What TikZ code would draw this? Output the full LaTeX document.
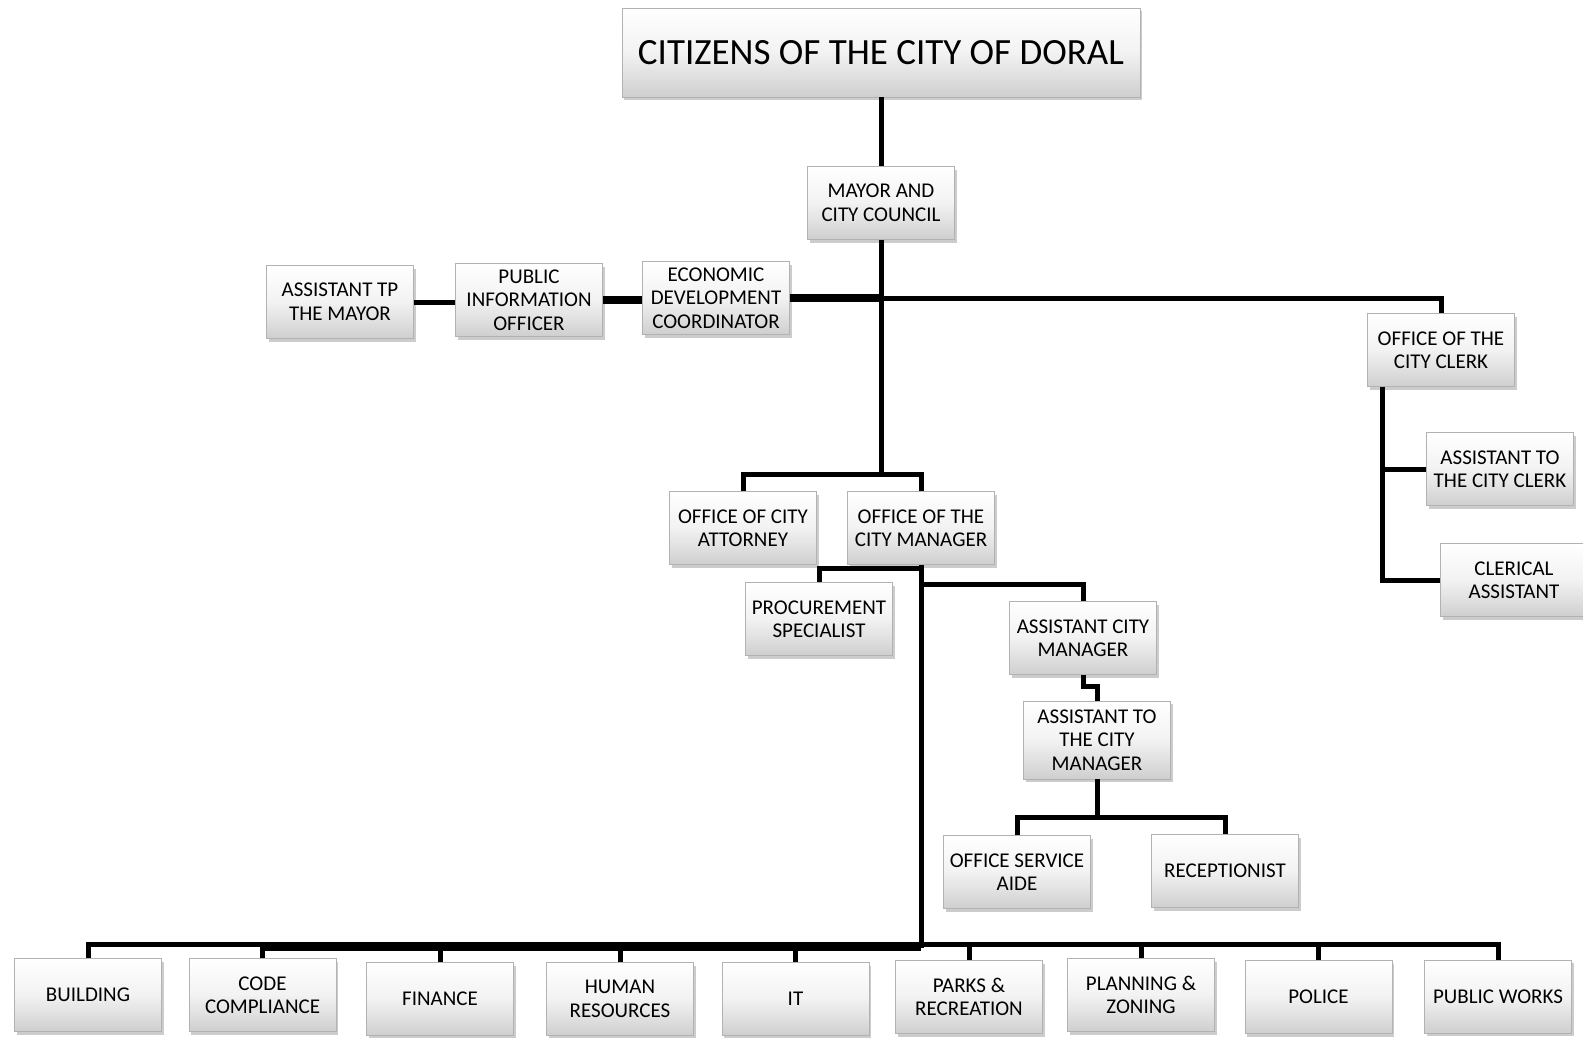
\documentclass[tikz,border=0pt]{standalone}
\usepackage{fontspec}
\setmainfont{Carlito}
\usetikzlibrary{shadows,calc}
\begin{document}
\begin{tikzpicture}[x=1pt,y=-1pt,
  box/.style={draw=gray!60, line width=0.8pt, top color=white, bottom color=gray!38, middle color=gray!10,
    drop shadow={shadow xshift=2pt,shadow yshift=-3pt,opacity=0.5,fill=gray!80},
    align=center, inner sep=2pt, minimum width=147pt, minimum height=73pt,
    font=\fontsize{21}{23.5}\selectfont},
  link/.style={line width=5pt, draw=black, line join=miter},
  heavy/.style={line width=8pt, draw=black}]
\useasboundingbox (0,0) rectangle (1583,1037);
% nodes
\node[box, minimum width=518pt, minimum height=89pt, font=\fontsize{37}{40}\selectfont] (cit) at (881,52.5) {CITIZENS OF THE CITY OF DORAL};
\node[box] (mayor) at (881,203) {MAYOR AND\\CITY COUNCIL};
\node[box] (atp) at (340,302) {ASSISTANT TP\\THE MAYOR};
\node[box] (pio) at (529,300) {PUBLIC\\INFORMATION\\OFFICER};
\node[box] (edc) at (716,298) {ECONOMIC\\DEVELOPMENT\\COORDINATOR};
\node[box] (clerk) at (1441,350) {OFFICE OF THE\\CITY CLERK};
\node[box] (atcc) at (1500,469) {ASSISTANT TO\\THE CITY CLERK};
\node[box] (cler) at (1514,580) {CLERICAL\\ASSISTANT};
\node[box] (att) at (743,528) {OFFICE OF CITY\\ATTORNEY};
\node[box] (mgr) at (921,528) {OFFICE OF THE\\CITY MANAGER};
\node[box] (proc) at (819,619) {PROCUREMENT\\SPECIALIST};
\node[box] (acm) at (1083,638) {ASSISTANT CITY\\MANAGER};
\node[box, minimum height=78pt] (atcm) at (1097,740) {ASSISTANT TO\\THE CITY\\MANAGER};
\node[box] (osa) at (1017,872) {OFFICE SERVICE\\AIDE};
\node[box] (rec) at (1225,871) {RECEPTIONIST};
\node[box] (bld) at (88,995) {BUILDING};
\node[box] (code) at (262.5,995) {CODE\\COMPLIANCE};
\node[box] (fin) at (440,999) {FINANCE};
\node[box] (hr) at (620,999) {HUMAN\\RESOURCES};
\node[box] (it) at (795.5,999) {IT};
\node[box] (parks) at (969,997) {PARKS \&\\RECREATION};
\node[box] (plan) at (1141,995) {PLANNING \&\\ZONING};
\node[box] (pol) at (1318.5,997) {POLICE};
\node[box] (pw) at (1498,996.5) {PUBLIC WORKS};
% coordinates
\coordinate (j0) at (881,298);
\coordinate (j1) at (881,474.5);
\coordinate (cl) at (1382,386.7);
\coordinate (m1) at (921,568.4);
\coordinate (m2) at (921,584.6);
\coordinate (a3) at (1097,817.8);
\coordinate (bus) at (921,944);
\coordinate (busb) at (921,948);
% connectors
\draw[link] (cit.south) -- (mayor.north);
\draw[link] (mayor.south) -- (j1);
\draw[link] (edc.east) -| (clerk.north);
\draw[heavy] (edc.east) -- (j0);
\draw[heavy] (pio.east) -- (pio.east -| edc.west);
\draw[link] (atp.east) -- (atp.east -| pio.west);
\draw[link] (att.north) |- (j1) -| (mgr.north);
\draw[link] (cl) |- (cler.west);
\draw[link] (cl |- atcc.west) -- (atcc.west);
\draw[link] (mgr.south) -- (busb);
\draw[link] (m1) -| (proc.north);
\draw[link] (m2) -| (acm.north);
\draw[link] (acm.south) -- ++(0,12) -| (atcm.north);
\draw[link] (atcm.south) -- (a3);
\draw[link] (osa.north) |- (a3) -| (rec.north);
\draw[link] (bld.north) -- (bld.north |- bus) -- (pw.north |- bus) -- (pw.north);
\draw[link] (code.north |- busb) -- (busb);
\foreach \n in {code,fin,hr,it,parks,plan,pol}
  \draw[link] (\n.north) -- (\n.north |- bus);
\end{tikzpicture}
\end{document}
